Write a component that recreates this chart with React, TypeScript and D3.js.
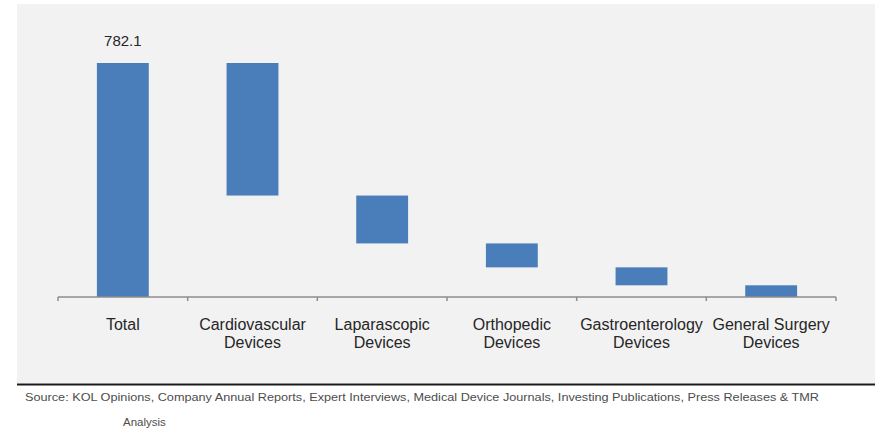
import React from "react";
import * as d3 from "d3";

const categories = [
  "Total",
  "Cardiovascular Devices",
  "Laparascopic Devices",
  "Orthopedic Devices",
  "Gastroenterology Devices",
  "General Surgery Devices",
];
const totalValue = 782.1;
const segmentValues = [443.0, 160.0, 80.0, 60.0, 39.1];
const totalLabel = "782.1";
const sourceLine1 =
  "Source: KOL Opinions, Company Annual Reports, Expert Interviews, Medical Device Journals, Investing Publications, Press Releases & TMR";
const sourceLine2 = "Analysis";

const W = 878;
const H = 430;
const FONT = "'Liberation Sans', Arial, Helvetica, sans-serif";

export default function App() {
  const axisLeft = 58;
  const axisRight = 836;
  const axisY = 297;

  const xSlot = d3.scaleBand<string>().domain(categories).range([axisLeft, axisRight]).padding(0);
  const xBar = d3
    .scaleBand<string>()
    .domain(categories)
    .range([axisLeft, axisRight])
    .paddingInner(0.6)
    .paddingOuter(0.3);
  const y = d3.scaleLinear().domain([0, totalValue]).range([axisY, 63]);

  const bars: { cat: string; top: number; bottom: number }[] = [];
  bars.push({ cat: categories[0], top: totalValue, bottom: 0 });
  let running = totalValue;
  segmentValues.forEach((v, i) => {
    bars.push({ cat: categories[i + 1], top: running, bottom: running - v });
    running -= v;
  });

  const splitLabel = (s: string) => {
    const idx = s.lastIndexOf(" ");
    return idx < 0 ? [s] : [s.slice(0, idx), s.slice(idx + 1)];
  };

  const ticks = [...categories.map((c) => xSlot(c) as number), axisRight];

  return (
    <svg
      width={W}
      height={H}
      style={{ position: "absolute", left: 0, top: 0, background: "#ffffff" }}
      fontFamily={FONT}
    >
      <rect x={17} y={4} width={858} height={379} fill="#f2f2f2" />
      <line x1={17} x2={875} y1={384.5} y2={384.5} stroke="#1a1a1a" strokeWidth={2} />

      {bars.map((b) => (
        <rect
          key={b.cat}
          x={xBar(b.cat)}
          y={y(b.top)}
          width={xBar.bandwidth()}
          height={y(b.bottom) - y(b.top)}
          fill="#4a7ebb"
        />
      ))}

      <line x1={axisLeft} x2={axisRight} y1={axisY} y2={axisY} stroke="#8c8c8c" strokeWidth={1.5} />
      {ticks.map((t, i) => (
        <line key={i} x1={t} x2={t} y1={axisY} y2={axisY + 4} stroke="#8c8c8c" strokeWidth={1.5} />
      ))}

      <text
        x={(xBar(categories[0]) as number) + xBar.bandwidth() / 2}
        y={y(totalValue) - 17}
        textAnchor="middle"
        fontSize={15}
        fill="#262626"
      >
        {totalLabel}
      </text>

      {categories.map((c) => {
        const cx = (xSlot(c) as number) + xSlot.bandwidth() / 2;
        const lines = c === "Total" ? [c] : splitLabel(c);
        return (
          <text key={c} textAnchor="middle" fontSize={16} fill="#262626">
            {lines.map((l, i) => (
              <tspan key={i} x={cx} y={330 + i * 18}>
                {l}
              </tspan>
            ))}
          </text>
        );
      })}

      <text x={25} y={401} fontSize={11.5} fill="#4d4d4d" textLength={794} lengthAdjust="spacingAndGlyphs">
        {sourceLine1}
      </text>
      <text x={123} y={426} fontSize={11.5} fill="#4d4d4d">
        {sourceLine2}
      </text>
    </svg>
  );
}
